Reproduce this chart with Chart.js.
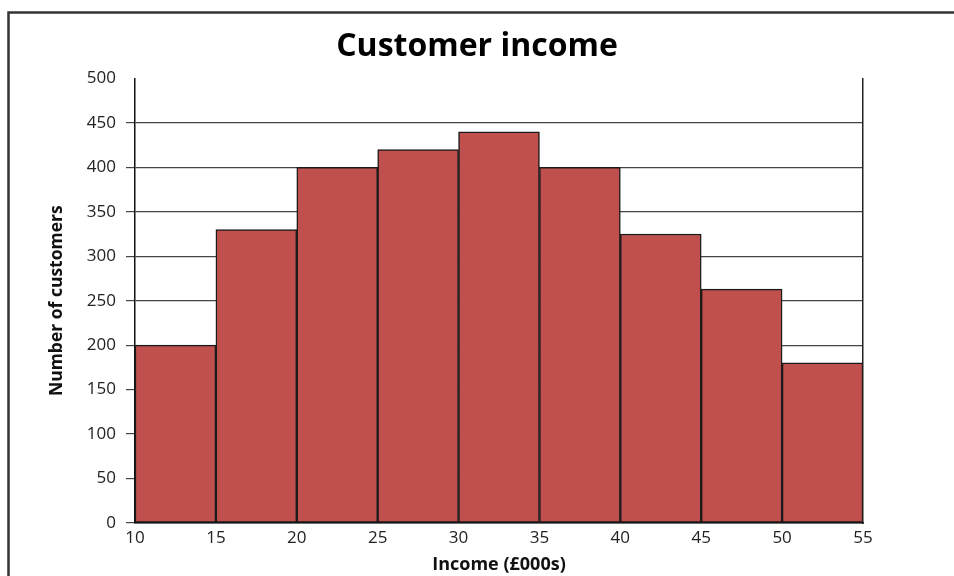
<!DOCTYPE html>
<html>
<head>
<meta charset="utf-8">
<title>Customer income</title>
<script src="https://cdn.jsdelivr.net/npm/chart.js@4/dist/chart.umd.min.js"></script>
<style>
  html, body { margin: 0; padding: 0; background: #fff; }
  #wrap { width: 954px; height: 576px; position: relative; }
</style>
</head>
<body>
<div id="wrap"><canvas id="incomeChart" width="954" height="576"></canvas></div>
<script>
'use strict';

// income bands (£000s), lower and upper edge of each bar
const bandStart = [10, 15, 20, 25, 30, 35, 40, 45, 50];
const bandEnd = [15, 20, 25, 30, 35, 40, 45, 50, 55];
// customers in each band
const customers = [200, 330, 400, 420, 440, 400, 325, 263, 180];

// tick labels along each axis
const xTicks = [10, 15, 20, 25, 30, 35, 40, 45, 50, 55];
const yTicks = [0, 50, 100, 150, 200, 250, 300, 350, 400, 450, 500];

const fontFamily = '"Open Sans", "Noto Sans", sans-serif';

// bars sit at the middle of each band on a linear axis
let points = [];
for (let i = 0; i < customers.length; i++) {
  points.push({ x: (bandStart[i] + bandEnd[i]) / 2, y: customers[i] });
}

// thin frame round the whole picture
const framePlugin = {
  id: 'frame',
  beforeDraw(chart) {
    const ctx = chart.ctx;
    ctx.save();
    ctx.strokeStyle = '#333';
    ctx.lineWidth = 2.5;
    ctx.strokeRect(8.5, 12.5, 1000, 1000);
    ctx.restore();
  }
};

const config = {
  type: 'bar',
  data: {
    datasets: [{
      label: 'Customers',
      data: points,
      yAxisID: 'y',
      backgroundColor: '#C0504D',
      borderColor: '#1a1a1a',
      borderWidth: 1.5,
      borderSkipped: false,
      barPercentage: 1,
      categoryPercentage: 1
    }]
  },
  options: {
    responsive: false,
    animation: false,
    layout: {
      padding: 0
    },
    scales: {
      x: {
        type: 'linear',
        offset: false,
        min: xTicks[0],
        max: xTicks[xTicks.length - 1],
        afterBuildTicks(scale) {
          scale.ticks = xTicks.map(v => ({ value: v }));
        },
        afterFit(scale) {
          scale.height = 53;
        },
        ticks: {
          padding: 5,
          color: '#222',
          font: { family: fontFamily, size: 17 }
        },
        grid: {
          offset: false,
          drawTicks: false,
          drawOnChartArea: false
        },
        border: { color: '#111', width: 1.5 },
        title: {
          display: true,
          text: 'Income (£000s)',
          color: '#111',
          font: { family: fontFamily, size: 18, weight: 'bold' },
          padding: { top: 0, bottom: 0 }
        }
      },
      y: {
        position: 'left',
        min: yTicks[0],
        max: yTicks[yTicks.length - 1],
        afterBuildTicks(scale) {
          scale.ticks = yTicks.map(v => ({ value: v }));
        },
        afterFit(scale) {
          scale.width = 135;
        },
        ticks: {
          padding: 10,
          color: '#222',
          font: { family: fontFamily, size: 17 }
        },
        grid: {
          tickLength: 9,
          lineWidth: 1.2,
          color: ctx => (ctx.tick && ctx.tick.value === 500 ? 'rgba(0,0,0,0)' : '#444')
        },
        border: { color: '#111', width: 1.5 },
        title: {
          display: true,
          text: 'Number of customers',
          color: '#111',
          font: { family: fontFamily, size: 17.5, weight: 'bold' },
          padding: { top: 47, bottom: 0 }
        }
      },
      // plain line closing the plot on the right
      yRight: {
        position: 'right',
        min: yTicks[0],
        max: yTicks[yTicks.length - 1],
        afterFit(scale) {
          scale.width = 91;
        },
        ticks: { display: false },
        grid: { drawOnChartArea: false, drawTicks: false },
        border: { color: '#222', width: 1.5 }
      }
    },
    plugins: {
      legend: { display: false },
      tooltip: { enabled: false },
      title: {
        display: true,
        text: 'Customer income',
        color: '#000',
        font: { family: fontFamily, size: 32, weight: 'bold' },
        padding: { top: 28, bottom: 12 }
      }
    }
  },
  plugins: [framePlugin]
};

const incomeChart = new Chart(document.getElementById('incomeChart'), config);
</script>
</body>
</html>
